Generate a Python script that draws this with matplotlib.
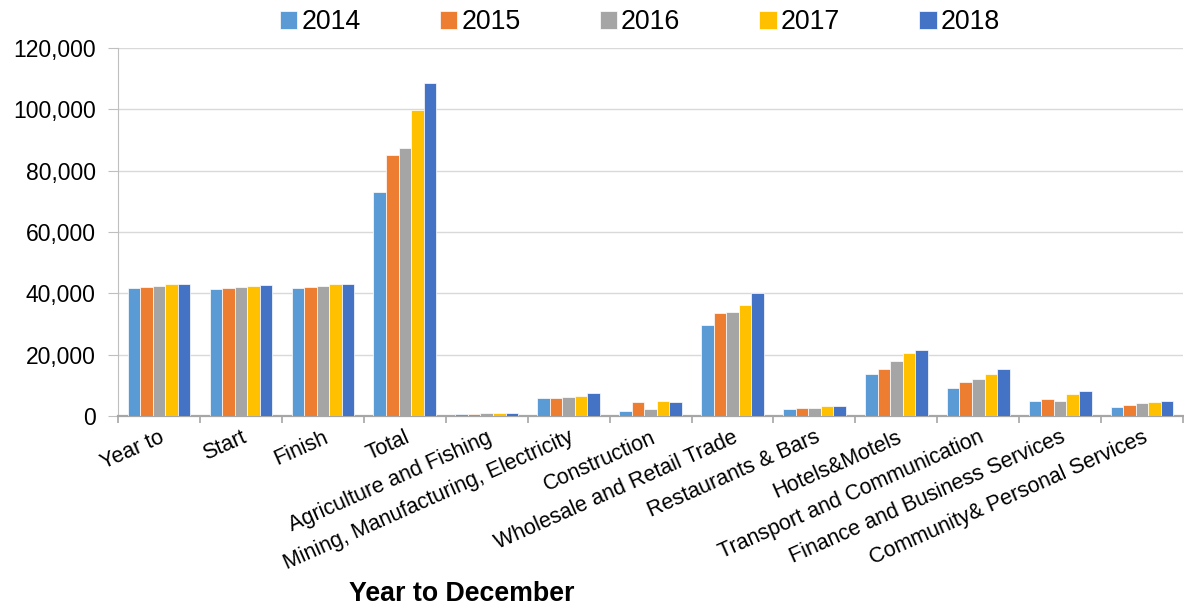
"""
Employment by industry, year to December, 2014-2018
"""

import numpy as np
import matplotlib
matplotlib.use('Agg')
import matplotlib.pyplot as plt
from matplotlib.ticker import FuncFormatter, FixedLocator

categories = ['Year to', 'Start', 'Finish', 'Total', 'Agriculture and Fishing',
              'Mining, Manufacturing, Electricity', 'Construction',
              'Wholesale and Retail Trade', 'Restaurants & Bars', 'Hotels&Motels',
              'Transport and Communication', 'Finance and Business Services',
              'Community& Personal Services']

years = ['2014', '2015', '2016', '2017', '2018']

v2014 = [41700, 41300, 41700, 72900, 600, 5900, 1500, 29600, 2300, 13700, 9100, 5000, 2800]
v2015 = [42100, 41800, 42100, 85000, 800, 5800, 4400, 33600, 2500, 15300, 11100, 5400, 3700]
v2016 = [42500, 42100, 42500, 87400, 900, 6300, 2200, 33800, 2700, 18000, 12200, 4900, 4100]
v2017 = [42900, 42500, 42900, 99800, 1000, 6500, 4800, 36100, 3100, 20700, 13800, 7100, 4400]
v2018 = [43200, 42800, 43200, 108600, 900, 7400, 4700, 40100, 3300, 21500, 15400, 8100, 5000]

series = [v2014, v2015, v2016, v2017, v2018]
colors = ['#5B9BD5', '#ED7D31', '#A5A5A5', '#FFC000', '#4472C4']

plt.rcParams['font.family'] = ['Liberation Sans', 'DejaVu Sans']

fig = plt.figure(figsize=(11.84, 6.08), dpi=100)
ax = fig.add_axes([0.0997, 0.3158, 0.8995, 0.6053])

x = np.arange(len(categories))
width = 0.153
for i, (vals, color, year) in enumerate(zip(series, colors, years)):
    ax.bar(x + (i - 2) * width, vals, width, color=color, label=year,
           edgecolor='white', linewidth=0.5, zorder=3)

ax.set_xlim(-0.5, len(categories) - 0.5)
ax.set_ylim(0, 120000)
ax.set_yticks(np.arange(0, 120001, 20000))
ax.yaxis.set_major_formatter(FuncFormatter(lambda v, p: f'{int(v):,}'))
ax.grid(axis='y', color='#d9d9d9', linewidth=1, zorder=0)

# category labels at centres, tick marks at the boundaries
ax.set_xticks(x)
ax.set_xticklabels(categories, rotation=24, ha='right', rotation_mode='anchor')
ax.tick_params(axis='x', which='major', length=0, pad=8, labelsize=15.5)
ax.xaxis.set_minor_locator(FixedLocator(np.arange(-0.5, len(categories), 1)))
ax.tick_params(axis='x', which='minor', length=5, color='#a6a6a6', width=1.2)
ax.tick_params(axis='y', length=7, color='#bfbfbf', labelsize=16.5, pad=9)

for side in ['top', 'right']:
    ax.spines[side].set_visible(False)
ax.spines['left'].set_color('#bfbfbf')
ax.spines['bottom'].set_color('#a6a6a6')
ax.spines['bottom'].set_linewidth(1.6)

ax.legend(loc='lower center', bbox_to_anchor=(0.49, 1.005), ncol=5, frameon=False,
          fontsize=19.3, handlelength=0.65, handleheight=0.65, handletextpad=0.15,
          columnspacing=2.95, borderaxespad=0)

fig.text(0.39, 0.012, 'Year to December', fontsize=19.3, fontweight='bold', ha='center')

plt.savefig('out.png', dpi=100)
